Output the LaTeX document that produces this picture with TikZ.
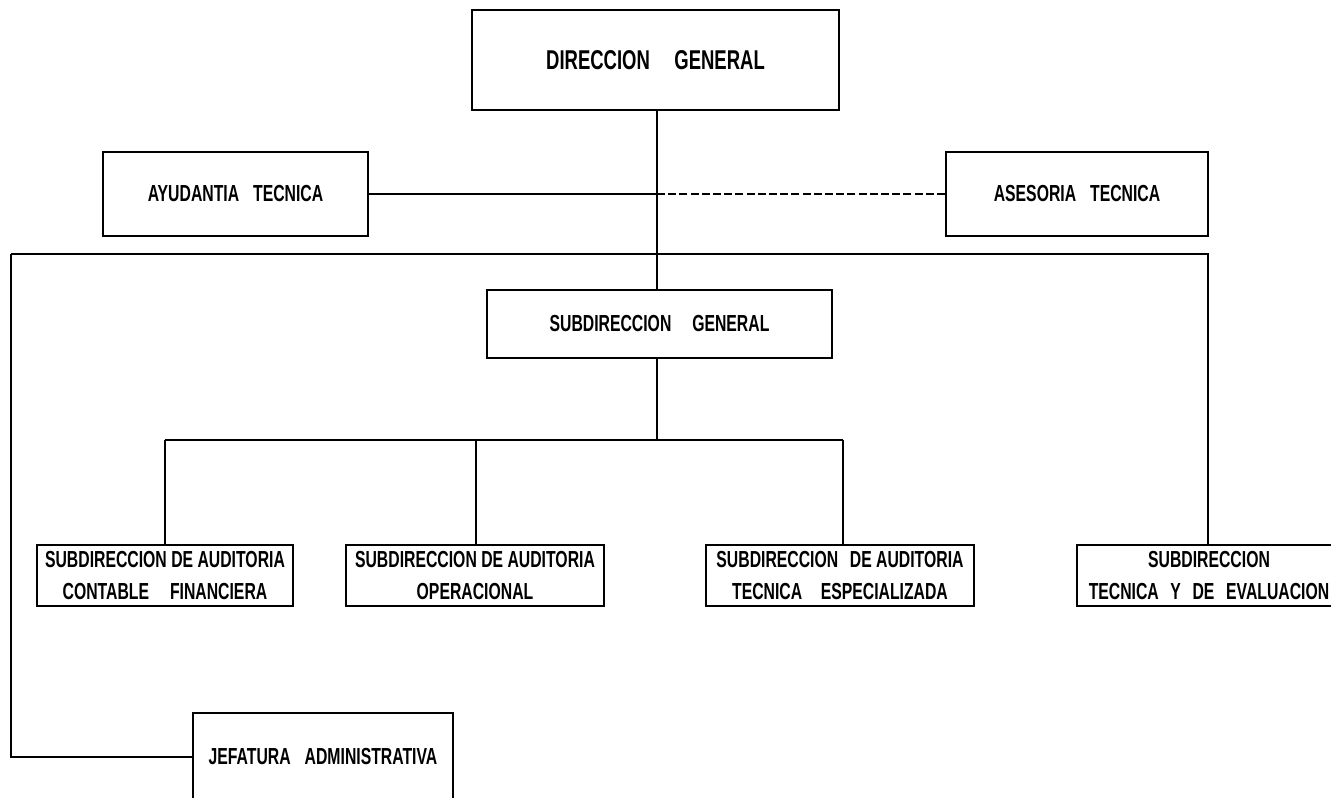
\documentclass[tikz,border=0pt]{standalone}
\usepackage{fontspec}
\setmainfont{Liberation Sans}[FakeStretch=0.68,BoldFont={* Bold},BoldFeatures={FakeStretch=0.68}]
\begin{document}
\begin{tikzpicture}[x=0.5pt,y=-0.5pt,
  unit/.style={draw=black,line width=1.3pt,inner sep=0pt,align=center,
    font=\bfseries\fontsize{11.6}{16}\selectfont},
  link/.style={line width=0.7pt},
  adv/.style={line width=0.7pt,dash pattern=on 4pt off 1.6pt}]
\useasboundingbox (0,0) rectangle (1331,797);
\clip (0,0) rectangle (1331,797);
\fill[white] (0,0) rectangle (1331,797);

% top level and staff units
\node[unit,minimum width=183.5pt,minimum height=50pt,
  font=\bfseries\fontsize{13.6}{16}\selectfont] (dg) at (655.5,60)
  {DIRECCION\hspace{0.9em}GENERAL};
\node[unit,minimum width=132.5pt,minimum height=42pt] (at) at (235.5,194)
  {AYUDANTIA\hspace{0.6em}TECNICA};
\node[unit,minimum width=131pt,minimum height=42pt] (as) at (1077,194)
  {ASESORIA\hspace{0.6em}TECNICA};
\node[unit,minimum width=172.5pt,minimum height=34pt] (sg) at (659.5,324)
  {SUBDIRECCION\hspace{0.9em}GENERAL};

% operating units
\node[unit,minimum width=128pt,minimum height=30.5pt] (s1) at (165,575.5)
  {SUBDIRECCION DE AUDITORIA\\CONTABLE\hspace{0.9em}FINANCIERA};
\node[unit,minimum width=129pt,minimum height=30.5pt] (s2) at (475,575.5)
  {SUBDIRECCION DE AUDITORIA\\OPERACIONAL};
\node[unit,minimum width=134pt,minimum height=30.5pt] (s3) at (840,575.5)
  {SUBDIRECCION\hspace{0.5em}DE AUDITORIA\\TECNICA\hspace{0.8em}ESPECIALIZADA};
\node[unit,minimum width=132pt,minimum height=30.5pt] (s4) at (1209,575.5)
  {SUBDIRECCION\\TECNICA\hspace{0.5em}Y\hspace{0.5em}DE\hspace{0.5em}EVALUACION};
\node[unit,minimum width=130pt,minimum height=44pt] (ja) at (323,757)
  {JEFATURA\hspace{0.6em}ADMINISTRATIVA};

% routing points
\coordinate (mid) at (657,194);
\coordinate (bus) at (657,254);
\coordinate (busL) at (11,254);
\coordinate (busR) at (1208,254);
\coordinate (low) at (657,440);
\coordinate (lowL) at (165,440);
\coordinate (lowR) at (843,440);
\coordinate (jaL) at (11,757);

% main line of authority
\draw[link] (dg.south -| mid) -- (sg.north -| mid);
\draw[link] (at.east) -- (mid);
\draw[adv] (mid) -- (as.west);
\draw[link] (busL) -- (busR) -- (s4.north -| busR);
\draw[link] (busL) -- (jaL) -- (ja.west |- jaL);
\draw[link] (sg.south -| low) -- (low);
\draw[link] (lowL) -- (lowR);
\draw[link] (lowL) -- (s1.north -| lowL);
\draw[link] (476,440) -- (s2.north -| 476,0);
\draw[link] (lowR) -- (s3.north -| lowR);
\end{tikzpicture}
\end{document}
